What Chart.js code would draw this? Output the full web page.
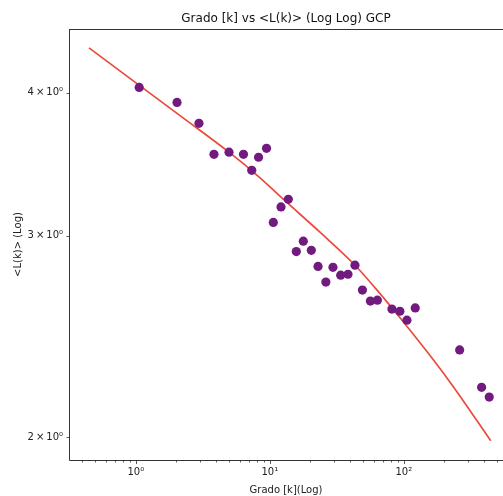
<!DOCTYPE html>
<html>
<head>
<meta charset="utf-8">
<script src="https://cdn.jsdelivr.net/npm/chart.js@4"></script>
<style>
html,body{margin:0;padding:0;background:#fff;}
canvas{display:block;}
</style>
</head>
<body>
<canvas id="c" width="503" height="496"></canvas>
<script>
// ---- data ----
const gradoK = [1.06, 2.03, 2.96, 3.83, 4.96, 6.36, 8.24, 9.45, 7.33, 13.74, 12.12, 10.62,
  17.78, 15.77, 20.4, 22.9, 29.6, 43.2, 26.2, 33.8, 38.3, 49.1, 56.3, 63.5, 81.5, 93.5,
  121.7, 105.5, 261, 380.7, 433.9];
const meanL = [4.043, 3.923, 3.761, 3.534, 3.549, 3.534, 3.513, 3.577, 3.422, 3.228, 3.179, 3.081,
  2.967, 2.906, 2.913, 2.820, 2.815, 2.827, 2.733, 2.771, 2.776, 2.689, 2.630, 2.635, 2.588, 2.577,
  2.594, 2.531, 2.384, 2.211, 2.168];
const fitK = [0.4474, 1.044, 2.138, 4.962, 8.45, 12.98, 23.69, 43.24, 66.44, 93.67, 166.0, 234.1, 445.1];
const fitL = [4.378, 4.066, 3.820, 3.549, 3.371, 3.219, 3.021, 2.827, 2.670, 2.543, 2.337, 2.214, 1.986];
const xMajorTicks = [1, 10, 100];
const xMajorLabels = ['10\u2070', '10\u00b9', '10\u00b2'];
const xMinorTicks = [0.4, 0.5, 0.6, 0.7, 0.8, 0.9, 2, 3, 4, 5, 6, 7, 8, 9,
  20, 30, 40, 50, 60, 70, 80, 90, 200, 300, 400, 500];
const yTicks = [2, 3, 4];
const yLabels = ['2\u2009\u00d7\u200910\u2070', '3\u2009\u00d7\u200910\u2070', '4\u2009\u00d7\u200910\u2070'];
const titleText = 'Grado [k] vs <L(k)> (Log Log) GCP';
const xTitle = 'Grado [k](Log)';
const yTitle = '<L(k)> (Log)';

const FONT = "'DejaVu Sans', sans-serif";

const scatterData = gradoK.map((k, i) => ({x: k, y: meanL[i]}));
const fitData = fitK.map((k, i) => ({x: k, y: fitL[i]}));

const framePlugin = {
  id: 'frame',
  afterDraw(chart) {
    const ctx = chart.ctx, a = chart.chartArea;
    const xs = chart.scales.x, ys = chart.scales.y;
    ctx.save();
    ctx.strokeStyle = '#333';
    ctx.lineWidth = 1;
    ctx.beginPath();
    ctx.moveTo(a.left + 0.5, a.top);
    ctx.lineTo(a.left + 0.5, a.bottom + 0.5);
    ctx.lineTo(a.right, a.bottom + 0.5);
    ctx.moveTo(a.left, a.top + 0.5);
    ctx.lineTo(a.right, a.top + 0.5);
    ctx.stroke();
    ctx.lineWidth = 0.8;
    ctx.beginPath();
    xMajorTicks.forEach(v => {
      const p = Math.round(xs.getPixelForValue(v)) + 0.5;
      ctx.moveTo(p, a.bottom); ctx.lineTo(p, a.bottom + 4);
    });
    xMinorTicks.forEach(v => {
      const p = Math.round(xs.getPixelForValue(v)) + 0.5;
      ctx.moveTo(p, a.bottom); ctx.lineTo(p, a.bottom + 2.5);
    });
    yTicks.forEach(v => {
      const p = Math.round(ys.getPixelForValue(v)) + 0.5;
      ctx.moveTo(a.left, p); ctx.lineTo(a.left - 2.5, p);
    });
    ctx.stroke();
    ctx.restore();
  }
};

new Chart(document.getElementById('c'), {
  data: {
    datasets: [
      {
        type: 'line',
        data: fitData,
        borderColor: '#ec4a3c',
        borderWidth: 1.7,
        pointRadius: 0,
        fill: false,
        cubicInterpolationMode: 'monotone',
        order: 2
      },
      {
        type: 'scatter',
        data: scatterData,
        backgroundColor: '#731a80',
        borderColor: '#731a80',
        borderWidth: 0,
        pointRadius: 4.6,
        order: 1
      }
    ]
  },
  options: {
    responsive: false,
    animation: false,
    devicePixelRatio: 1,
    layout: {autoPadding: false, padding: {left: 0, right: 0, top: 0, bottom: 0}},
    plugins: {
      legend: {display: false},
      tooltip: {enabled: false},
      title: {
        display: true,
        text: titleText,
        fullSize: false,
        color: '#111',
        font: {family: FONT, size: 12, weight: 'normal'},
        padding: {top: 11.5, bottom: 3.1}
      }
    },
    scales: {
      x: {
        type: 'logarithmic',
        bounds: 'data',
        min: 0.3172,
        max: 549.8,
        grid: {display: false, drawTicks: false},
        border: {display: false},
        afterBuildTicks(s) { s.ticks = xMajorTicks.map(v => ({value: v})); },
        afterFit(s) { s.height = 36; s.paddingLeft = 0; s.paddingRight = 0; },
        ticks: {
          autoSkip: false, maxRotation: 0, minRotation: 0,
          padding: 6,
          color: '#222',
          font: {family: FONT, size: 10},
          callback(v) { const i = xMajorTicks.indexOf(v); return i >= 0 ? xMajorLabels[i] : ''; }
        },
        title: {
          display: true, text: xTitle, color: '#222',
          font: {family: FONT, size: 10},
          padding: {top: 2, bottom: 0}
        }
      },
      y: {
        type: 'logarithmic',
        bounds: 'data',
        min: 1.9103,
        max: 4.5475,
        grid: {display: false, drawTicks: false},
        border: {display: false},
        afterBuildTicks(s) { s.ticks = yTicks.map(v => ({value: v})); },
        afterFit(s) { s.width = 69; s.paddingTop = 0; s.paddingBottom = 0; },
        ticks: {
          autoSkip: false,
          padding: 6,
          color: '#222',
          font: {family: FONT, size: 10},
          callback(v) { const i = yTicks.indexOf(v); return i >= 0 ? yLabels[i] : ''; }
        },
        title: {
          display: true, text: yTitle, color: '#222',
          font: {family: FONT, size: 10},
          padding: {top: 12, bottom: 0}
        }
      }
    }
  },
  plugins: [framePlugin]
});
</script>
</body>
</html>
